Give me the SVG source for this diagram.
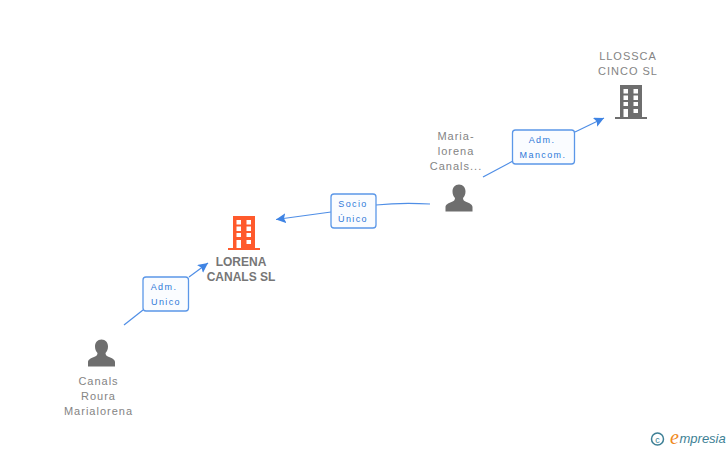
<svg xmlns="http://www.w3.org/2000/svg" width="728" height="450" viewBox="0 0 728 450">
<style>
text{font-family:"Liberation Sans",Arial,sans-serif}
.n{font-size:11px;fill:#848484;text-anchor:middle;letter-spacing:1px}
.b{font-size:12px;font-weight:bold;fill:#767676;text-anchor:middle}
.l{font-size:9px;fill:#2f78d8;text-anchor:middle;letter-spacing:1.4px}
.box{fill:#fafcff;stroke:#5b97e8;stroke-width:1.3}
.c{fill:none;stroke:#4f8ee6;stroke-width:1.2}
.w{fill:#fff}
</style>
<defs>
<marker id="a" markerUnits="userSpaceOnUse" markerWidth="12" markerHeight="12" refX="10" refY="5" orient="auto"><path d="M0 0L10 5L0 10L2 5Z" fill="#3f84e4"/></marker>
<g id="person"><path d="M0 -14.500C-4 -14.500 -6.500 -11.500 -6.500 -7.500C-6.500 -4.500 -5.500 -2.500 -4 -1C-4 1 -5 2 -7.500 3C-11 4.500 -13.500 5.500 -13.500 8V12.500H13.500V8C13.500 5.500 11 4.500 7.500 3C5 2 4 1 4 -1C5.500 -2.500 6.500 -4.500 6.500 -7.500C6.500 -11.500 4 -14.500 0 -14.500Z" fill="#6e6e6e"/></g>
<g id="bld">
<rect x="-11" y="-17" width="22" height="32"/><rect x="-16" y="15" width="32" height="2"/>
<g class="w"><rect x="-7.500" y="-13" width="4.500" height="4.500"/><rect x="2.500" y="-13" width="4.500" height="4.500"/><rect x="-7.500" y="-6.500" width="4.500" height="4.500"/><rect x="2.500" y="-6.500" width="4.500" height="4.500"/><rect x="-7.500" y="0" width="4.500" height="4"/><rect x="2.500" y="0" width="4.500" height="4"/><rect x="-7.500" y="7" width="4.500" height="8"/><rect x="2.500" y="7" width="4.500" height="4"/></g>
</g>
</defs>
<g id="connectors">
<path class="c" d="M124 325L143 310"/><path class="c" d="M189 277L208 263" marker-end="url(#a)"/>
<path class="c" d="M331 212L276 219.500" marker-end="url(#a)"/><path class="c" d="M376 205C395 203 412 203 430 204"/>
<path class="c" d="M483 177L513 161"/><path class="c" d="M575 132L604 118" marker-end="url(#a)"/>
</g>
<g id="lorena"><use href="#bld" x="244" y="233" fill="#ff5a2c"/><text class="b" x="241" y="266">LORENA</text><text class="b" x="241" y="281">CANALS SL</text></g>
<g id="llossca"><use href="#bld" x="631" y="102" fill="#6e6e6e"/><text class="n" x="628" y="60">LLOSSCA</text><text class="n" x="628" y="75">CINCO SL</text></g>
<g id="maria"><use href="#person" x="459" y="199"/><text class="n" x="456" y="140">Maria-</text><text class="n" x="456" y="155">lorena</text><text class="n" x="456" y="170">Canals...</text></g>
<g id="canals"><use href="#person" x="101.500" y="354"/><text class="n" x="98.500" y="385">Canals</text><text class="n" x="98.500" y="400">Roura</text><text class="n" x="98.500" y="415">Marialorena</text></g>
<g id="label-adm-unico"><rect class="box" x="143" y="277" width="45.500" height="34" rx="3"/><text class="l" x="164" y="290">Adm.</text><text class="l" x="166" y="305">Unico</text></g>
<g id="label-socio"><rect class="box" x="331" y="194" width="45" height="34" rx="3"/><text class="l" x="353" y="207">Socio</text><text class="l" x="353" y="222">Único</text></g>
<g id="label-mancom"><rect class="box" x="512.500" y="130" width="62" height="34" rx="3"/><text class="l" x="542" y="143">Adm.</text><text class="l" x="543" y="158">Mancom.</text></g>
<g id="logo"><circle cx="657.500" cy="439" r="6" fill="none" stroke="#3d7f95" stroke-width="1.500"/><text x="657.500" y="442.500" font-size="9" fill="#3d7f95" text-anchor="middle">c</text><text x="670" y="444" font-size="20" font-style="italic" fill="#f08a1d" style="font-family:'Liberation Serif',serif">e</text><text x="679.500" y="443" font-size="13" font-style="italic" fill="#3d7f95">mpresia</text></g>
</svg>
